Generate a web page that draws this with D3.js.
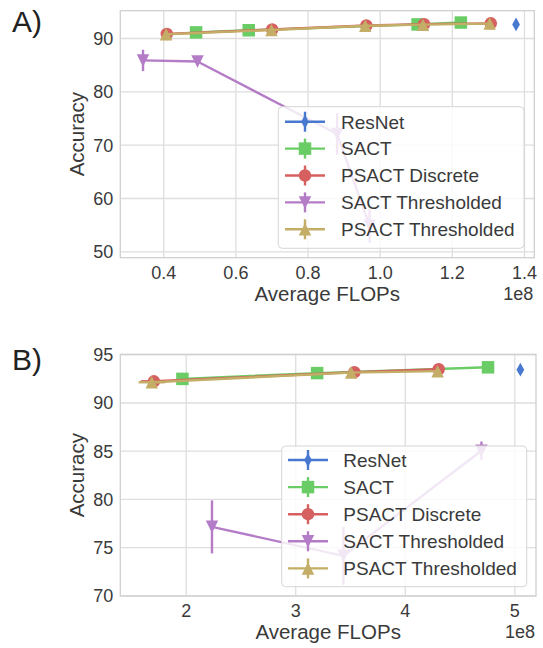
<!DOCTYPE html>
<html><head><meta charset="utf-8">
<script src="https://cdn.jsdelivr.net/npm/d3@7"></script>
<style>
html,body{margin:0;padding:0;background:#fff;}
svg{display:block;font-family:"Liberation Sans",Arial,sans-serif;}
</style>
</head><body>
<svg id="chart" width="543" height="648"></svg>
<script>
// ---------- data ----------
const seriesNames = ["ResNet", "SACT", "PSACT Discrete", "SACT Thresholded", "PSACT Thresholded"];
const seriesColors = ["#4878CF", "#6ACC65", "#D65F5F", "#B47CC7", "#C4AD66"];
const seriesMarkers = ["thin_diamond", "square", "circle", "triangle_down", "triangle_up"];

// Panel A (x in units of 1e8 FLOPs)
const resnetA_x = [1.378];
const resnetA_y = [92.55];
const sactA_x = [0.491, 0.637, 1.105, 1.225];
const sactA_y = [91.05, 91.45, 92.55, 92.9];
const psactDiscA_x = [0.410, 0.702, 0.963, 1.123, 1.308];
const psactDiscA_y = [90.75, 91.6, 92.35, 92.6, 92.75];
const sactThrA_x = [0.344, 0.495, 0.882, 0.972];
const sactThrA_y = [85.8, 85.6, 72.0, 54.8];
const sactThrA_err = [2.0, 0.3, 3.9, 3.2];
const psactThrA_x = [0.408, 0.700, 0.960, 1.120, 1.305];
const psactThrA_y = [90.7, 91.5, 92.3, 92.5, 92.7];
const xTicksA = [0.4, 0.6, 0.8, 1.0, 1.2, 1.4];
const yTicksA = [50, 60, 70, 80, 90];

// Panel B
const resnetB_x = [5.055];
const resnetB_y = [93.4];
const sactB_x = [1.97, 3.20, 4.76];
const sactB_y = [92.45, 93.05, 93.65];
const psactDiscB_x = [1.71, 3.54, 4.31];
const psactDiscB_y = [92.2, 93.15, 93.45];
const psactDiscB_xerr = [0.12, 0, 0];
const sactThrB_x = [2.24, 3.44, 4.70];
const sactThrB_y = [77.1, 74.1, 85.0];
const sactThrB_err = [2.75, 3.0, 0.95];
const psactThrB_x = [1.69, 3.51, 4.30];
const psactThrB_y = [92.1, 93.1, 93.25];
const psactThrB_xerr = [0.12, 0, 0];
const xTicksB = [2, 3, 4, 5];
const yTicksB = [70, 75, 80, 85, 90, 95];

const zip = (xs, ys, es, xes) => xs.map((x, i) => ({x, y: ys[i], e: es ? es[i] : 0, xe: xes ? xes[i] : 0}));

const panels = [
  {
    label: "A)", labelY: 32,
    box: {l: 120.3, r: 534.3, t: 10.7, b: 257.7},
    xDomain: [0.281, 1.4286], yDomain: [48.8, 95.12],
    xTicks: xTicksA, yTicks: yTicksA, xFmt: d3.format(".1f"),
    series: [
      zip(resnetA_x, resnetA_y),
      zip(sactA_x, sactA_y),
      zip(psactDiscA_x, psactDiscA_y),
      zip(sactThrA_x, sactThrA_y, sactThrA_err),
      zip(psactThrA_x, psactThrA_y)
    ],
    legend: {x: 278.3, y: 106.7, w: 245.7, h: 141.6, row0: 121.7, step: 26.9, hx: 285, tx: 341}
  },
  {
    label: "B)", labelY: 370,
    box: {l: 120.3, r: 536, t: 354.3, b: 596},
    xDomain: [1.403, 5.198], yDomain: [69.93, 95],
    xTicks: xTicksB, yTicks: yTicksB, xFmt: d3.format("d"),
    series: [
      zip(resnetB_x, resnetB_y),
      zip(sactB_x, sactB_y),
      zip(psactDiscB_x, psactDiscB_y, null, psactDiscB_xerr),
      zip(sactThrB_x, sactThrB_y, sactThrB_err),
      zip(psactThrB_x, psactThrB_y, null, psactThrB_xerr)
    ],
    legend: {x: 281.7, y: 446, w: 245, h: 140.7, row0: 460, step: 27.1, hx: 288, tx: 343.3}
  }
];

// ---------- drawing ----------
const svg = d3.select("#chart");
const gridColor = "#dedede";
const spineColor = "#d0d0d0";
const textColor = "#3a3a3a";

function markerPath(type, s) {
  const h = s / 2;
  switch (type) {
    case "square": return `M${-h},${-h}H${h}V${h}H${-h}Z`;
    case "circle": return d3.symbol(d3.symbolCircle, Math.PI * h * h)();
    case "triangle_up": return `M0,${-h}L${h},${h}L${-h},${h}Z`;
    case "triangle_down": return `M0,${h}L${h},${-h}L${-h},${-h}Z`;
    case "thin_diamond": return `M0,${-h * 1.1}L${h * 0.62},0L0,${h * 1.1}L${-h * 0.62},0Z`;
  }
}

panels.forEach(p => {
  const g = svg.append("g");
  const x = d3.scaleLinear().domain(p.xDomain).range([p.box.l, p.box.r]);
  const y = d3.scaleLinear().domain(p.yDomain).range([p.box.b, p.box.t]);

  // grid
  const xAxisG = g.append("g").attr("transform", `translate(0,${p.box.b})`)
    .call(d3.axisBottom(x).tickValues(p.xTicks).tickFormat(p.xFmt)
      .tickSize(-(p.box.b - p.box.t)).tickPadding(8));
  xAxisG.select(".domain").remove();
  xAxisG.selectAll(".tick line").attr("stroke", gridColor).attr("stroke-width", 1.3);
  xAxisG.selectAll(".tick text").attr("fill", textColor).attr("font-size", 18)
    .attr("font-family", "Liberation Sans, Arial, sans-serif").attr("y", 8).attr("dy", "0.72em");

  const yAxisG = g.append("g").attr("transform", `translate(${p.box.l},0)`)
    .call(d3.axisLeft(y).tickValues(p.yTicks).tickFormat(d3.format("d"))
      .tickSize(-(p.box.r - p.box.l)).tickPadding(7));
  yAxisG.select(".domain").remove();
  yAxisG.selectAll(".tick line").attr("stroke", gridColor).attr("stroke-width", 1.3);
  yAxisG.selectAll(".tick text").attr("fill", textColor).attr("font-size", 18)
    .attr("font-family", "Liberation Sans, Arial, sans-serif").attr("dy", "0.36em");

  // spines
  g.append("rect").attr("x", p.box.l).attr("y", p.box.t)
    .attr("width", p.box.r - p.box.l).attr("height", p.box.b - p.box.t)
    .attr("fill", "none").attr("stroke", spineColor).attr("stroke-width", 1.3);

  // series
  p.series.forEach((data, si) => {
    const col = seriesColors[si];
    const sg = g.append("g");
    if (data.length > 1) {
      sg.append("path").datum(data)
        .attr("d", d3.line().x(d => x(d.x)).y(d => y(d.y)))
        .attr("fill", "none").attr("stroke", col).attr("stroke-width", 2.4)
        .attr("stroke-linejoin", "round");
    }
    data.filter(d => d.e > 0).forEach(d => {
      sg.append("line").attr("x1", x(d.x)).attr("x2", x(d.x))
        .attr("y1", y(d.y - d.e)).attr("y2", y(d.y + d.e))
        .attr("stroke", col).attr("stroke-width", 2.4);
    });
    data.filter(d => d.xe > 0).forEach(d => {
      sg.append("line").attr("x1", x(d.x - d.xe)).attr("x2", x(d.x + d.xe))
        .attr("y1", y(d.y)).attr("y2", y(d.y))
        .attr("stroke", col).attr("stroke-width", 2.4);
    });
    sg.selectAll("path.m").data(data).join("path").attr("class", "m")
      .attr("transform", d => `translate(${x(d.x)},${y(d.y)})`)
      .attr("d", markerPath(seriesMarkers[si], 12.5))
      .attr("fill", col);
  });

  // legend
  const L = p.legend;
  const lg = g.append("g");
  lg.append("rect").attr("x", L.x).attr("y", L.y).attr("width", L.w).attr("height", L.h)
    .attr("rx", 4).attr("fill", "#fff").attr("fill-opacity", 0.82)
    .attr("stroke", "#d6d6d6").attr("stroke-width", 1);
  seriesNames.forEach((name, i) => {
    const cy = L.row0 + i * L.step;
    const col = seriesColors[i];
    lg.append("line").attr("x1", L.hx).attr("x2", L.hx + 40).attr("y1", cy).attr("y2", cy)
      .attr("stroke", col).attr("stroke-width", 2.4);
    lg.append("line").attr("x1", L.hx + 20).attr("x2", L.hx + 20).attr("y1", cy - 10).attr("y2", cy + 10)
      .attr("stroke", col).attr("stroke-width", 2.4);
    lg.append("path").attr("transform", `translate(${L.hx + 20},${cy})`)
      .attr("d", markerPath(seriesMarkers[i], 12.5)).attr("fill", col);
    lg.append("text").attr("x", L.tx).attr("y", cy).attr("dy", "0.36em")
      .attr("font-size", 19).attr("fill", textColor).text(name);
  });

  // labels
  g.append("text").attr("x", (p.box.l + p.box.r) / 2).attr("y", p.box.b + 43)
    .attr("text-anchor", "middle").attr("font-size", 20.5).attr("fill", textColor)
    .text("Average FLOPs");
  g.append("text").attr("x", p.box.r - 1).attr("y", p.box.b + 42)
    .attr("text-anchor", "end").attr("font-size", 18).attr("fill", textColor)
    .text("1e8");
  g.append("text")
    .attr("transform", `translate(77,${(p.box.t + p.box.b) / 2}) rotate(-90)`)
    .attr("text-anchor", "middle").attr("dy", "0.36em")
    .attr("font-size", 20.5).attr("fill", textColor).text("Accuracy");
  g.append("text").attr("x", 12).attr("y", p.labelY)
    .attr("font-size", 30).attr("fill", "#222").text(p.label);
});
</script>
</body></html>
